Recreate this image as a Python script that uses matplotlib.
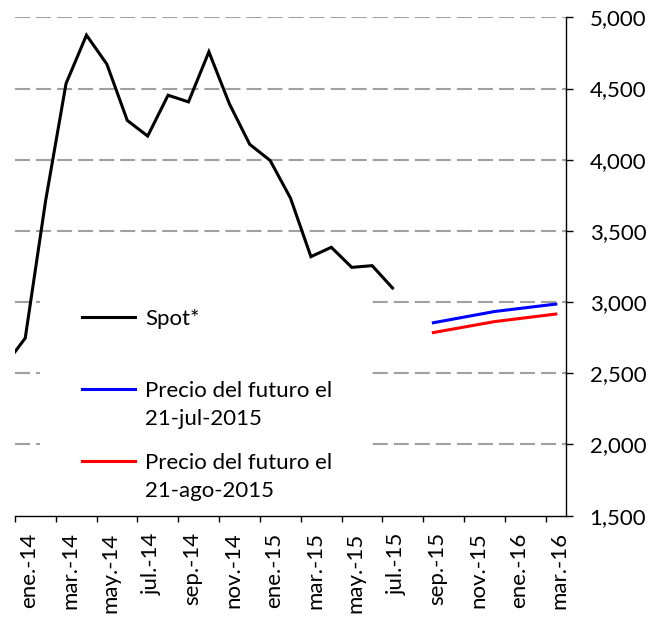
import numpy as np
import matplotlib
matplotlib.use("Agg")
import matplotlib.pyplot as plt
import matplotlib.transforms as mtransforms
from matplotlib.legend_handler import HandlerLine2D
from matplotlib.patches import Rectangle
from matplotlib.ticker import FuncFormatter

plt.rcParams['font.family'] = ['Lato', 'DejaVu Sans']

# monthly categories (dic.-13 sits just left of the visible range)
months = ['dic.-13',
          'ene.-14', 'feb.-14', 'mar.-14', 'abr.-14', 'may.-14', 'jun.-14',
          'jul.-14', 'ago.-14', 'sep.-14', 'oct.-14', 'nov.-14', 'dic.-14',
          'ene.-15', 'feb.-15', 'mar.-15', 'abr.-15', 'may.-15', 'jun.-15',
          'jul.-15', 'ago.-15', 'sep.-15', 'oct.-15', 'nov.-15', 'dic.-15',
          'ene.-16', 'feb.-16', 'mar.-16']

# spot price, dic.-13 .. jul.-15
spot = [2556, 2747, 3713, 4535, 4875, 4671, 4276, 4166, 4453, 4406,
        4758, 4394, 4108, 3995, 3730, 3319, 3385, 3244, 3256, 3099]

# futures curves
fut_months = ['sep.-15', 'dic.-15', 'mar.-16']
fut_jul = [2855, 2934, 2986]
fut_ago = [2786, 2863, 2916]

y_ticks = [1500, 2000, 2500, 3000, 3500, 4000, 4500, 5000]

labels = ['Spot*\n', 'Precio del futuro el\n21-jul-2015',
          'Precio del futuro el\n21-ago-2015']


class FirstRowHandler(HandlerLine2D):
    # put the legend line next to the first row of a two-row label
    def __init__(self, shift, **kw):
        super().__init__(**kw)
        self.shift = shift

    def create_artists(self, legend, orig_handle, xdescent, ydescent,
                       width, height, fontsize, trans):
        arts = super().create_artists(legend, orig_handle, xdescent, ydescent,
                                      width, height, fontsize, trans)
        for a in arts:
            a.set_ydata(np.asarray(a.get_ydata()) + self.shift)
        return arts


fig = plt.figure(figsize=(6.68, 6.21), dpi=100)
ax = fig.add_axes([0.0225, 0.1696, 0.8248, 0.8025])

x_spot = np.arange(len(spot))
x_fut = [months.index(m) for m in fut_months]

l1, = ax.plot(x_spot, spot, color='black', lw=2.2, solid_joinstyle='miter', zorder=3)
l2, = ax.plot(x_fut, fut_jul, color='#0000FF', lw=2.2, zorder=3)
l3, = ax.plot(x_fut, fut_ago, color='#FF0000', lw=2.2, zorder=3)

ax.set_xlim(0.5, len(months) - 0.5)
ax.set_ylim(1500, 5000)

# y axis on the right
ax.yaxis.tick_right()
ax.set_yticks(y_ticks)
ax.yaxis.set_major_formatter(FuncFormatter(lambda v, p: f'{int(v):,}'))
ax.tick_params(axis='y', length=5, width=1, pad=12, labelsize=16, colors='black')

# x axis: tick marks between category pairs, labels on every other month
ax.set_xticks(np.arange(0.5, len(months) - 0.5, 2))
ax.set_xticklabels([])
ax.tick_params(axis='x', which='major', length=4.5, width=1)
ax.set_xticks(np.arange(1, len(months), 2), minor=True)
ax.set_xticklabels(months[1::2], minor=True, rotation=90, fontsize=16)
ax.tick_params(axis='x', which='minor', length=0, pad=12)
shift = mtransforms.ScaledTranslation(4 / 100, 0, fig.dpi_scale_trans)
for lab in ax.get_xticklabels(minor=True):
    lab.set_transform(lab.get_transform() + shift)

for s in ['top', 'left']:
    ax.spines[s].set_visible(False)
for s in ['right', 'bottom']:
    ax.spines[s].set_linewidth(1.0)

ax.set_axisbelow(True)
ax.yaxis.grid(True, color='#A0A0A0', lw=1.5, linestyle=(0, (7.2, 2.9)))
ax.get_ygridlines()[0].set_visible(False)

# white legend area hiding the gridlines
ax.add_patch(Rectangle((0.045, 0.0), 0.603, 0.45, transform=ax.transAxes,
                       facecolor='white', edgecolor='none', zorder=1))

h = FirstRowHandler(12.0)
leg = ax.legend([l1, l2, l3], labels, loc='upper left',
                bbox_to_anchor=(0.1216, 0.414), frameon=False, fontsize=16,
                borderpad=0, borderaxespad=0, handlelength=2.4,
                handletextpad=0.45, labelspacing=1.08,
                handler_map={l1: h, l2: h, l3: h})
for t in leg.get_texts():
    t.set_linespacing(1.5)

fig.savefig('out.png', dpi=100)
